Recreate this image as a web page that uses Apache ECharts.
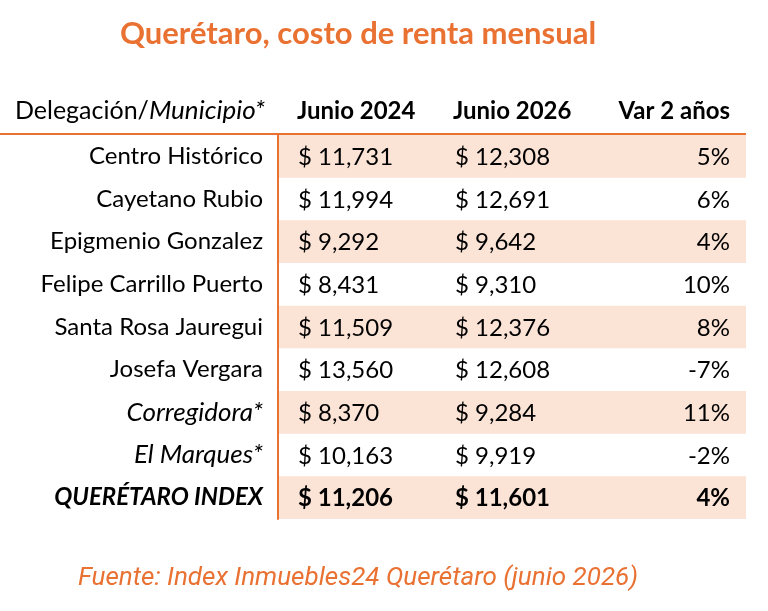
<!DOCTYPE html>
<html>
<head>
<meta charset="utf-8">
<script src="https://cdn.jsdelivr.net/npm/echarts@6/dist/echarts.min.js"></script>
<style>
  html, body { margin: 0; padding: 0; background: #fff; }
  #main { width: 768px; height: 611px; }
</style>
</head>
<body>
<div id="main"></div>
<script>
    // datos de la tabla
    var delegaciones = ['Centro Histórico', 'Cayetano Rubio', 'Epigmenio Gonzalez', 'Felipe Carrillo Puerto',
        'Santa Rosa Jauregui', 'Josefa Vergara', 'Corregidora*', 'El Marques*', 'QUERÉTARO INDEX'];
    var junio2024 = [11731, 11994, 9292, 8431, 11509, 13560, 8370, 10163, 11206];
    var junio2026 = [12308, 12691, 9642, 9310, 12376, 12608, 9284, 9919, 11601];
    var variacion = [5, 6, 4, 10, 8, -7, 11, -2, 4];
    // estilo de cada fila: n = normal, i = municipio (italica), t = total
    var estilos = ['n', 'n', 'n', 'n', 'n', 'n', 'i', 'i', 't'];
    var encabezados = ['Delegación', 'Municipio*', 'Junio 2024', 'Junio 2026', 'Var 2 años'];

    var naranja = '#E97132';
    var sombra = '#FBE3D6';
    var fuente = 'Lato, "Noto Sans", sans-serif';
    var tam = 24;

    var chart = echarts.init(document.getElementById('main'));

    function pesos(v) {
        return '$ ' + v.toLocaleString('en-US');
    }

    function renderFila(params, api) {
        var row = api.value(0);
        var centro = api.coord([0, row]);
        var fin = api.coord([468, row]);
        var h = api.size([0, 1])[1];
        var negrita = estilos[row] === 't' ? 'bold' : 'normal';
        var children = [];
        if (row % 2 === 0) {
            children.push({
                type: 'rect',
                shape: { x: centro[0] + 1, y: centro[1] - h / 2, width: fin[0] - centro[0] - 1, height: h },
                style: { fill: sombra }
            });
        }
        var celdas = [
            { x: api.coord([20, row])[0], text: pesos(api.value(1)), align: 'left' },
            { x: api.coord([177, row])[0], text: pesos(api.value(2)), align: 'left' },
            { x: api.coord([452, row])[0], text: api.value(3) + '%', align: 'right' }
        ];
        celdas.forEach(function (c) {
            children.push({
                type: 'text',
                style: {
                    text: c.text, x: c.x, y: centro[1] + 1,
                    align: c.align, verticalAlign: 'middle',
                    fontSize: tam, fontFamily: fuente, fontWeight: negrita, fill: '#000'
                }
            });
        });
        return { type: 'group', children: children };
    }

    var filas = delegaciones.map(function (d, i) {
        return [i, junio2024[i], junio2026[i], variacion[i]];
    });

    var option = {
        animation: false,
        grid: { left: 278, top: 135, width: 468, height: 384 },
        xAxis: { type: 'value', min: 0, max: 468, show: false },
        yAxis: {
            type: 'category',
            data: delegaciones,
            inverse: true,
            axisLine: { show: true, lineStyle: { color: naranja, width: 2 } },
            axisTick: { show: false },
            splitLine: { show: false },
            axisLabel: {
                interval: 0,
                margin: 15,
                formatter: function (value, index) {
                    return '{' + estilos[index] + '|' + value + '}';
                },
                rich: {
                    n: { fontSize: tam, fontFamily: fuente, color: '#000' },
                    i: { fontSize: 26, fontFamily: fuente, color: '#000', fontStyle: 'italic' },
                    t: { fontSize: tam, fontFamily: fuente, color: '#000', fontStyle: 'italic', fontWeight: 'bold' }
                }
            }
        },
        series: [{
            type: 'custom',
            renderItem: renderFila,
            encode: { x: 1, y: 0 },
            data: filas,
            z: 1
        }],
        graphic: [
            {
                type: 'text', x: 358, y: 34,
                style: {
                    text: 'Querétaro, costo de renta mensual',
                    align: 'center', verticalAlign: 'middle',
                    fontSize: 31, fontWeight: 'bold', fontFamily: fuente, fill: naranja
                }
            },
            {
                type: 'text', x: 265, y: 111,
                style: {
                    text: '{a|' + encabezados[0] + '/}{b|' + encabezados[1] + '}',
                    align: 'right', verticalAlign: 'middle',
                    rich: {
                        a: { fontSize: 25, fontFamily: fuente, fill: '#000' },
                        b: { fontSize: 26, fontFamily: fuente, fill: '#000', fontStyle: 'italic' }
                    }
                }
            },
            {
                type: 'text', x: 297, y: 111,
                style: { text: encabezados[2], align: 'left', verticalAlign: 'middle',
                    fontSize: tam, fontWeight: 'bold', fontFamily: fuente, fill: '#000' }
            },
            {
                type: 'text', x: 453, y: 111,
                style: { text: encabezados[3], align: 'left', verticalAlign: 'middle',
                    fontSize: tam, fontWeight: 'bold', fontFamily: fuente, fill: '#000' }
            },
            {
                type: 'text', x: 730, y: 111,
                style: { text: encabezados[4], align: 'right', verticalAlign: 'middle',
                    fontSize: tam, fontWeight: 'bold', fontFamily: fuente, fill: '#000' }
            },
            {
                type: 'line',
                shape: { x1: 0, y1: 134, x2: 746, y2: 134 },
                style: { stroke: naranja, lineWidth: 2 }
            },
            {
                type: 'text', x: 358, y: 578,
                style: {
                    text: 'Fuente: Index Inmuebles24 Querétaro (junio 2026)',
                    align: 'center', verticalAlign: 'middle',
                    fontSize: 26, fontStyle: 'italic', fontFamily: 'Roboto, sans-serif', fill: naranja
                }
            }
        ]
    };

    chart.setOption(option);
</script>
</body>
</html>
